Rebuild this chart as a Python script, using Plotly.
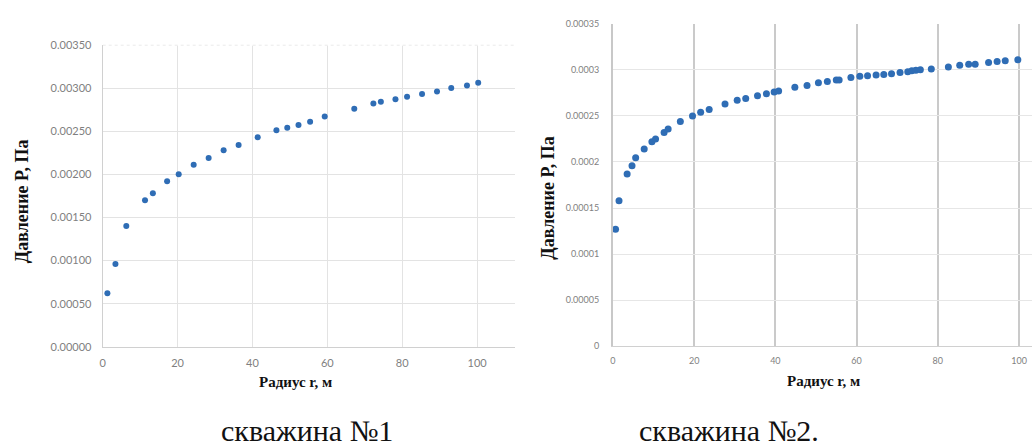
import plotly.graph_objects as go

# ---------- data ----------
r1 = [1.25, 3.4, 6.3, 11.3, 13.4, 17.2, 20.3, 24.3, 28.3, 32.3, 36.3, 41.4, 46.4, 49.3,
      52.3, 55.4, 59.3, 67.2, 72.3, 74.3, 78.2, 81.3, 85.3, 89.3, 93.1, 97.3, 100.3]
p1 = [0.00062, 0.00096, 0.00140, 0.00170, 0.00178, 0.00192, 0.00200, 0.00211, 0.00219,
      0.00228, 0.00234, 0.00243, 0.00251, 0.00254, 0.00257, 0.00261, 0.00267, 0.00276,
      0.00282, 0.00284, 0.00287, 0.00290, 0.00293, 0.00296, 0.00300, 0.00303, 0.00306]

r2 = [0.65, 1.5, 3.5, 4.7, 5.6, 7.7, 9.6, 10.5, 12.6, 13.6, 16.6, 19.6, 21.6, 23.7, 27.6,
      30.6, 32.7, 35.6, 37.8, 39.7, 40.8, 44.8, 47.8, 50.6, 52.8, 55.0, 55.7, 58.6, 60.8,
      62.7, 64.8, 66.7, 68.6, 70.7, 72.6, 73.6, 74.6, 75.7, 78.4, 82.6, 85.4, 87.6, 89.2,
      92.5, 94.6, 96.6, 99.7]
p2 = [0.000127, 0.000158, 0.000187, 0.000196, 0.0002045, 0.000214, 0.000222, 0.000225,
      0.000232, 0.0002357, 0.000244, 0.000250, 0.000254, 0.000257, 0.000263, 0.000267,
      0.000269, 0.000272, 0.000274, 0.000276, 0.000277, 0.000281, 0.000283, 0.000286,
      0.0002874, 0.000289, 0.000289, 0.0002916, 0.000293, 0.0002937, 0.0002944, 0.000295,
      0.0002958, 0.000297, 0.000298, 0.000299, 0.0002995, 0.000300, 0.000301, 0.000303,
      0.000305, 0.000306, 0.000306, 0.000308, 0.000309, 0.000310, 0.000311]

x_ticks = [0, 20, 40, 60, 80, 100]
y1_ticks = [0, 0.0005, 0.001, 0.0015, 0.002, 0.0025, 0.003, 0.0035]
y2_ticks = [0, 0.00005, 0.0001, 0.00015, 0.0002, 0.00025, 0.0003, 0.00035]
y2_labels = ["0", "0.00005", "0.0001", "0.00015", "0.0002", "0.00025", "0.0003", "0.00035"]

x_title = "Радиус r, м"
y_title = "Давление P, Па"
caption1 = "скважина №1"
caption2 = "скважина №2."

# ---------- layout helpers ----------
W, H = 1032, 448
def px(x):
    return x / W
def py(y):
    return 1 - y / H

blue = "#2f6db5"
tick_font1 = dict(family="Lato, Liberation Sans, sans-serif", size=11, color="#7f7f7f")
tick_font2 = dict(family="Lato, Liberation Sans, sans-serif", size=9, color="#7f7f7f")

fig = go.Figure()
fig.add_trace(go.Scatter(x=r1, y=p1, mode="markers", xaxis="x", yaxis="y",
                         marker=dict(color=blue, size=6), showlegend=False))
fig.add_trace(go.Scatter(x=r2, y=p2, mode="markers", xaxis="x2", yaxis="y2",
                         marker=dict(color=blue, size=7), showlegend=False))

fig.update_layout(
    width=W, height=H,
    margin=dict(l=0, r=0, t=0, b=0),
    paper_bgcolor="white", plot_bgcolor="white",
    xaxis=dict(domain=[px(100), px(513)], range=[0, 110], tickvals=x_ticks,
               showgrid=True, gridcolor="#e3e3e3", gridwidth=1,
               zeroline=False, showline=True, linecolor="#d0d0d0", linewidth=1,
               ticks="", tickfont=tick_font1, anchor="y", ticklabelstandoff=6),
    yaxis=dict(domain=[py(350), py(39)], range=[0, 0.0035], tickvals=y1_ticks,
               tickformat=".5f", showgrid=True, gridcolor="#e3e3e3", gridwidth=1,
               zeroline=False, showline=True, linecolor="#d0d0d0", linewidth=1,
               ticks="", tickfont=tick_font1, anchor="x", ticklabelstandoff=8),
    xaxis2=dict(domain=[px(611.7), 1.0], range=[0, (W - 611.7) / 4.073], tickvals=x_ticks,
                showgrid=True, gridcolor="#cacaca", gridwidth=2,
                zeroline=False, showline=True, linecolor="#d0d0d0", linewidth=1,
                ticks="", tickfont=tick_font2, anchor="y2", ticklabelstandoff=6),
    yaxis2=dict(domain=[py(349.3), py(17.3)], range=[0, 0.00035], tickvals=y2_ticks,
                ticktext=y2_labels, showgrid=True, gridcolor="#e6e6e6", gridwidth=1,
                zeroline=False, showline=True, linecolor="#c8c8c8", linewidth=2,
                ticks="", tickfont=tick_font2, anchor="x2", ticklabelstandoff=10),
)

# dotted top border of the left plot
fig.add_shape(type="line", xref="x", yref="y", x0=0, x1=110, y0=0.0035, y1=0.0035,
              line=dict(color="white", width=2), layer="above")
fig.add_shape(type="line", xref="x", yref="y", x0=0, x1=110, y0=0.0035, y1=0.0035,
              line=dict(color="#d6d6d6", width=1, dash="dot"), layer="above")

xtitle_font = dict(family="Liberation Serif, serif", size=15, color="#111111")
ytitle_font = dict(family="Liberation Serif, serif", size=18, color="#111111")
cap_font = dict(family="Liberation Serif, serif", size=30, color="#111111")

ann = [
    dict(text="<b>" + x_title + "</b>", x=px(293), y=py(386), font=xtitle_font),
    dict(text="<b>" + x_title + "</b>", x=px(823), y=py(385), font=xtitle_font),
    dict(text="<b>" + y_title + "</b>", x=px(19), y=py(200), font=ytitle_font, textangle=-90),
    dict(text="<b>" + y_title + "</b>", x=px(547), y=py(196), font=ytitle_font, textangle=-90),
    dict(text=caption1, x=px(305), y=py(436), font=cap_font),
    dict(text=caption2, x=px(728), y=py(436), font=cap_font),
]
for a in ann:
    fig.add_annotation(xref="paper", yref="paper", showarrow=False,
                       xanchor="center", yanchor="middle", **a)

fig.write_html("out.html")
